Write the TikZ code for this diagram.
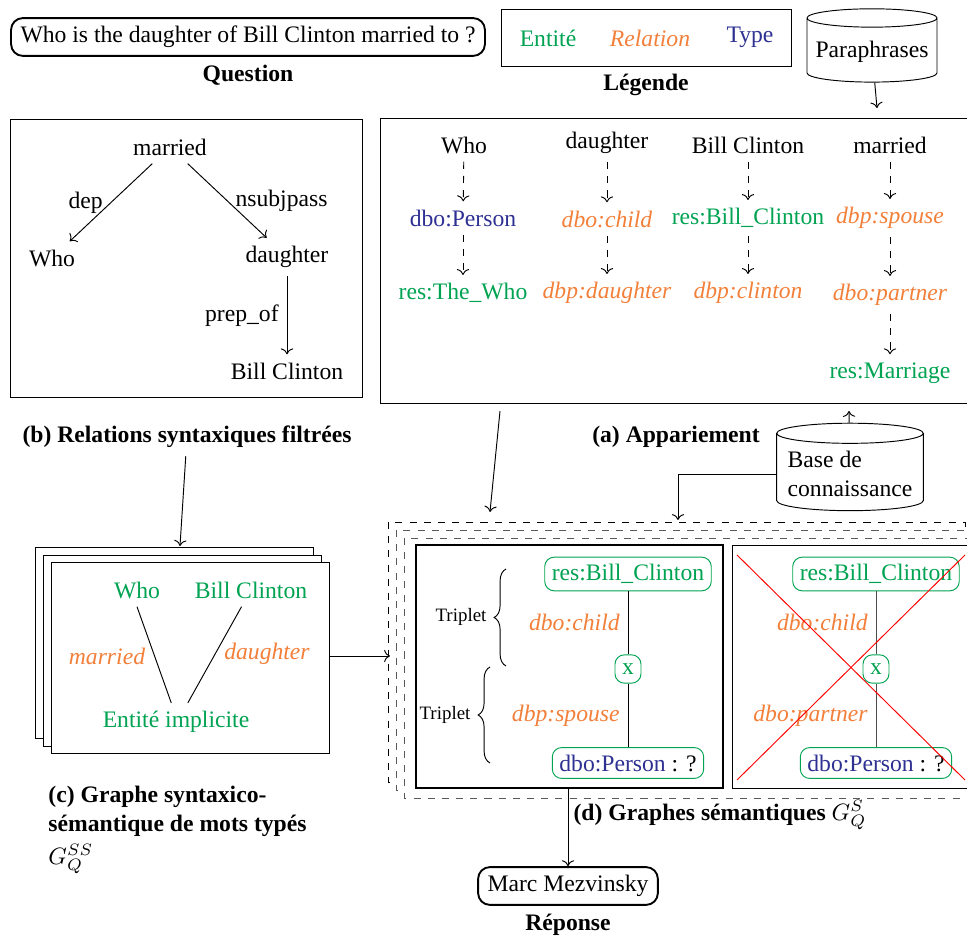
\documentclass[tikz,border=0pt]{standalone}
\usepackage{fontspec}
\setmainfont{Liberation Serif}
\usepackage{tikz}
\usetikzlibrary{arrows.meta,calc,positioning,shapes.geometric,decorations.pathreplacing}
\definecolor{entgreen}{RGB}{0,163,82}
\definecolor{relorange}{RGB}{242,128,58}
\definecolor{typblue}{RGB}{46,49,146}
\tikzset{
  ent/.style={text=entgreen},
  rel/.style={text=relorange,font=\itshape},
  typ/.style={text=typblue},
  qbox/.style={draw,thick,rounded corners=5pt,inner xsep=4pt,minimum height=16pt},
  kbox/.style={draw=entgreen,rounded corners=4pt,inner sep=3pt,minimum height=12pt},
  lbl/.style={font=\bfseries},
  db/.style={draw,cylinder,shape border rotate=90,aspect=0.15,inner sep=2pt},
  map/.style={dashed,->},
  dstack/.style={dashed,fill=white}
}

\begin{document}
\begin{tikzpicture}[x=0.423pt,y=-0.423pt]
\useasboundingbox (0,0) rectangle (967,937);

% question, legend, paraphrases
\node[qbox] (q) at (248,37) {Who is the daughter of Bill Clinton married to ?};
\node[lbl] (ql) at (248,75) {Question};
\draw (501,9) rectangle (791,66);
\node[ent] (le) at (548,38) {Entité};
\node[rel] (lr) at (650,38) {Relation};
\node[typ] (lt) at (750,37) {Type};
\node[lbl] (ll) at (646,85) {Légende};
\node[db,minimum width=55pt,minimum height=31pt] (para) at (872,52) {Paraphrases};
\coordinate (atop) at (877,108);
\draw[->] (para) -- (atop);

% (b) syntactic relations
\draw (10,119) rectangle (362,397);
\node (bm) at (170,147) {married};
\node (bw) at (52,258) {Who};
\node (bd) at (287,257) {daughter};
\node (bb) at (287,371) {Bill Clinton};
\draw[->] (bm) -- node[left] {dep} (bw);
\draw[->] (bm) -- node[right] {nsubjpass} (bd);
\draw[->] (bd) -- node[left] {prep\_of} (bb);
\node[lbl] (bl) at (187,437) {(b) Relations syntaxiques filtrées};

% (a) matching
\draw (380,118) rectangle (985,403);
\node (a1) at (464,145) {Who};
\node[typ] (a1b) at (463,218) {dbo:Person};
\node[ent] (a1c) at (463,293) {res:The\_Who};
\node (a2) at (607,143) {daughter};
\node[rel] (a2b) at (607,219) {dbo:child};
\node[rel] (a2c) at (607,293) {dbp:daughter};
\node (a3) at (748,145) {Bill Clinton};
\node[ent] (a3b) at (748,218) {res:Bill\_Clinton};
\node[rel] (a3c) at (748,293) {dbp:clinton};
\node (a4) at (890,145) {married};
\node[rel] (a4b) at (890,218) {dbp:spouse};
\node[rel] (a4c) at (890,295) {dbo:partner};
\node[ent] (a4d) at (890,373) {res:Marriage};
\draw[map] (a1) -- (a1b); \draw[map] (a1b) -- (a1c);
\draw[map] (a2) -- (a2b); \draw[map] (a2b) -- (a2c);
\draw[map] (a3) -- (a3b); \draw[map] (a3b) -- (a3c);
\draw[map] (a4) -- (a4b); \draw[map] (a4b) -- (a4c); \draw[map] (a4c) -- (a4d);
\node[lbl] (al) at (676,437) {(a) Appariement};

% knowledge base
\node[db,minimum width=62pt,minimum height=37pt,align=left] (kb) at (850,474) {Base de\\connaissance};
\coordinate (abot2) at (849,411);
\draw[->] (kb) -- (abot2);

% (c) typed word graph
\draw[fill=white] (35,547) rectangle (313,738);
\draw[fill=white] (43,555) rectangle (321,746);
\draw[fill=white] (51,562) rectangle (329,753);
\node[ent] (cw) at (137,590) {Who};
\node[ent] (cb) at (251,590) {Bill Clinton};
\node[rel] (cm) at (107,656) {married};
\node[rel] (cd) at (267,654) {daughter};
\node[ent] (ci) at (176,722) {Entité implicite};
\draw (cw.south) -- ([xshift=-2pt]ci.north);
\draw ([xshift=-4pt]cb.south) -- ([xshift=5pt]ci.north);
\node[lbl,align=left,anchor=north west,inner sep=0pt] (cl) at (48,786)
  {(c) Graphe syntaxico-\\sémantique de mots typés\\[2pt]\mdseries$G_Q^{SS}$};
\coordinate (ctop) at (180,546);
\draw[->] (bl) -- (ctop);

% (d) semantic graphs
\draw[dstack] (388,522) rectangle (965,782);
\draw[dstack,draw=black!65] (396,530) rectangle (973,790);
\draw[dstack,draw=black!65] (404,538) rectangle (981,798);
\coordinate (abot) at (500,411);
\coordinate (dtop) at (490,512);
\draw[->] (abot) -- (dtop);
\coordinate (dtop2) at (678,520);
\draw[->] (kb.west) -| (dtop2);
\coordinate (cright) at (329,656);
\coordinate (dleft) at (390,656);
\draw[->] (cright) -- (dleft);

\draw[very thick] (416,545) rectangle (723,788);
\node[kbox,ent] (g1b) at (628,574) {res:Bill\_Clinton};
\node[kbox,ent] (g1x) at (628,669) {x};
\node[kbox] (g1p) at (628,763) {\textcolor{typblue}{dbo:Person} : ?};
\draw (g1b) -- node[rel,left] {dbo:child} (g1x) -- node[rel,left] {dbp:spouse} (g1p);
\draw[decorate,decoration={brace,amplitude=5pt}] (506,666) -- (506,569);
\draw[decorate,decoration={brace,amplitude=5pt}] (490,763) -- (490,667);
\node[font=\footnotesize] (tr1) at (461,617) {Triplet};
\node[font=\footnotesize] (tr2) at (445,715) {Triplet};

\draw (732,545) rectangle (978,788);
\node[kbox,ent] (g2b) at (876,574) {res:Bill\_Clinton};
\node[kbox,ent] (g2x) at (876,669) {x};
\node[kbox] (g2p) at (876,763) {\textcolor{typblue}{dbo:Person} : ?};
\draw[black!70] (g2b) -- node[rel,left] {dbo:child} (g2x) -- node[rel,left] {dbo:partner} (g2p);
\draw[red] (737,555) -- (965,780);
\draw[red] (737,780) -- (965,555);
\node[lbl] (dl) at (720,815) {(d) Graphes sémantiques \mdseries$G_Q^S$};

% answer
\node[qbox] (rep) at (568,886) {Marc Mezvinsky};
\node[lbl] (repl) at (568,925) {Réponse};
\coordinate (gbot) at (568,788);
\draw[->] (gbot) -- (rep);
\end{tikzpicture}
\end{document}
